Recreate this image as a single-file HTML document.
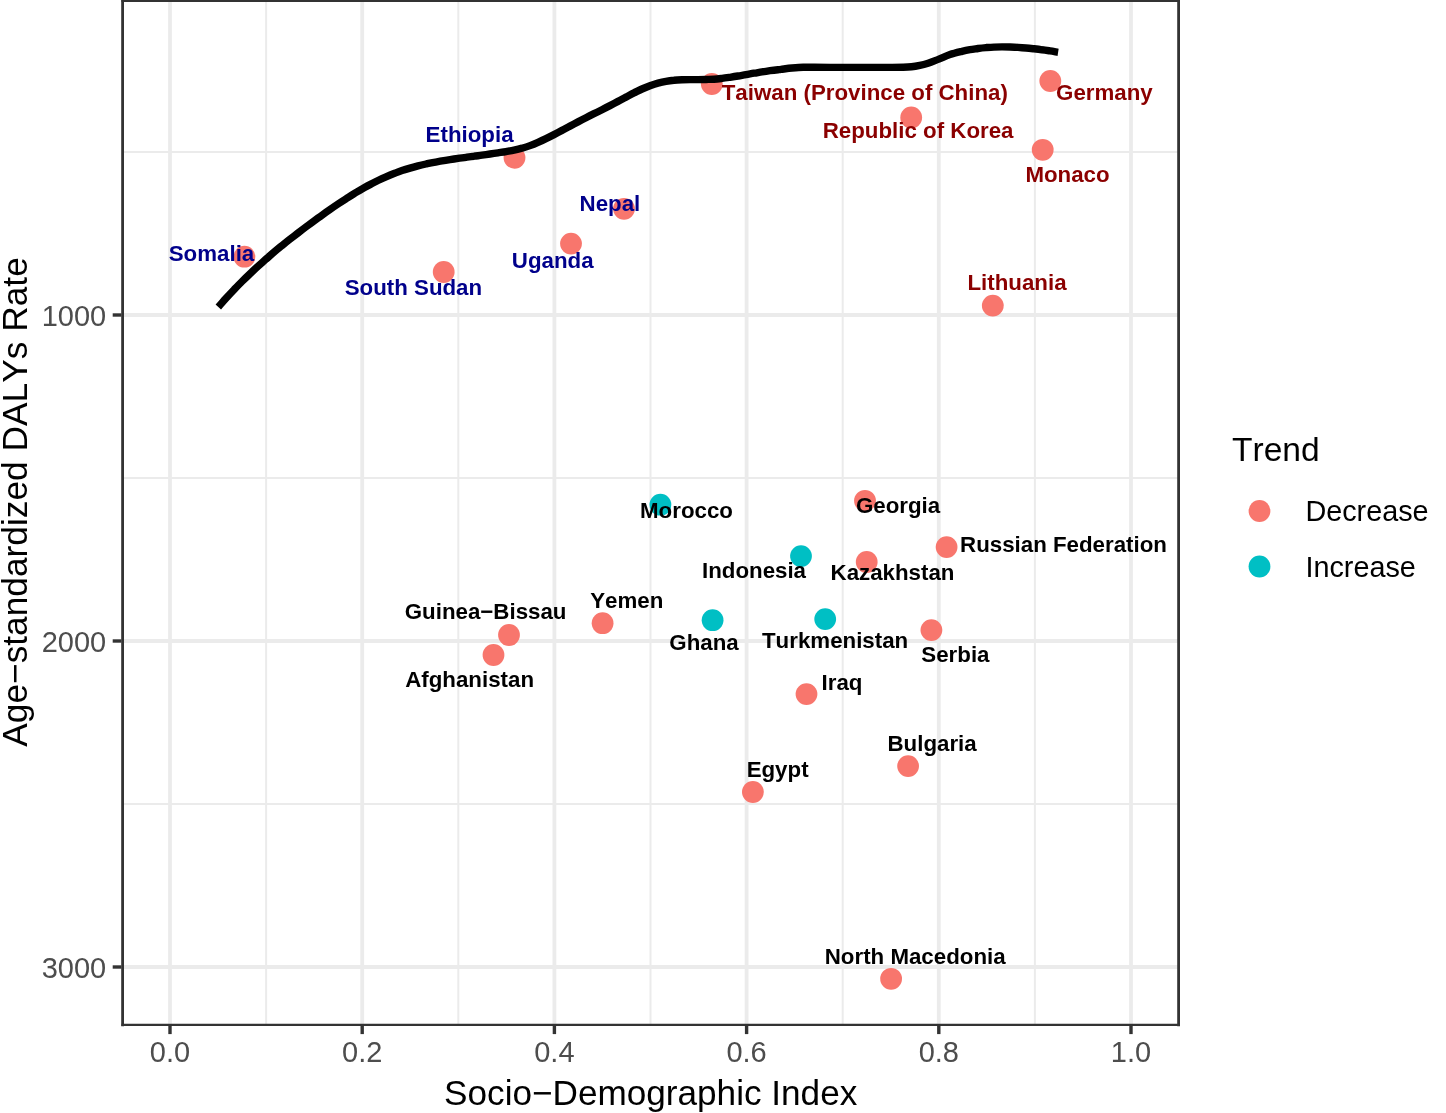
<!DOCTYPE html>
<html lang="en">
<head>
<meta charset="utf-8">
<title>Socio-Demographic Index vs Age-standardized DALYs Rate</title>
<style>
html,body{margin:0;padding:0;background:#fff;}
body{width:1446px;height:1113px;overflow:hidden;}
svg{display:block;will-change:transform;}
text{font-family:"Liberation Sans",Arial,Helvetica,sans-serif;font-kerning:none;}
.lab{font-weight:bold;font-size:22.3px;text-anchor:middle;}
.ax{font-size:29px;fill:#4D4D4D;}
.ttl{font-size:35.3px;fill:#000;}
.lg{font-size:28.8px;fill:#000;}
</style>
</head>
<body>
<svg width="1446" height="1113" viewBox="0 0 1446 1113">
<rect x="0" y="0" width="1446" height="1113" fill="#ffffff"/>
<g stroke="#EBEBEB" fill="none">
<g stroke-width="2.0">
<line x1="266.1" y1="0" x2="266.1" y2="1025.0"/>
<line x1="458.3" y1="0" x2="458.3" y2="1025.0"/>
<line x1="650.5" y1="0" x2="650.5" y2="1025.0"/>
<line x1="842.7" y1="0" x2="842.7" y2="1025.0"/>
<line x1="1034.9" y1="0" x2="1034.9" y2="1025.0"/>
<line x1="122.6" y1="152.0" x2="1178.6" y2="152.0"/>
<line x1="122.6" y1="478.0" x2="1178.6" y2="478.0"/>
<line x1="122.6" y1="804.0" x2="1178.6" y2="804.0"/>
</g>
<g stroke-width="3.8">
<line x1="170.0" y1="0" x2="170.0" y2="1025.0"/>
<line x1="362.2" y1="0" x2="362.2" y2="1025.0"/>
<line x1="554.4" y1="0" x2="554.4" y2="1025.0"/>
<line x1="746.6" y1="0" x2="746.6" y2="1025.0"/>
<line x1="938.8" y1="0" x2="938.8" y2="1025.0"/>
<line x1="1131.0" y1="0" x2="1131.0" y2="1025.0"/>
<line x1="122.6" y1="315.0" x2="1178.6" y2="315.0"/>
<line x1="122.6" y1="641.0" x2="1178.6" y2="641.0"/>
<line x1="122.6" y1="967.0" x2="1178.6" y2="967.0"/>
</g>
</g>
<g>
<circle cx="244.4" cy="256.7" r="10.9" fill="#F8766D"/>
<circle cx="443.7" cy="272.0" r="10.9" fill="#F8766D"/>
<circle cx="514.5" cy="157.8" r="10.9" fill="#F8766D"/>
<circle cx="624.0" cy="208.8" r="10.9" fill="#F8766D"/>
<circle cx="571.0" cy="243.6" r="10.9" fill="#F8766D"/>
<circle cx="711.8" cy="84.0" r="10.9" fill="#F8766D"/>
<circle cx="1050.3" cy="81.0" r="10.9" fill="#F8766D"/>
<circle cx="911.2" cy="117.5" r="10.9" fill="#F8766D"/>
<circle cx="1042.7" cy="149.8" r="10.9" fill="#F8766D"/>
<circle cx="992.8" cy="305.6" r="10.9" fill="#F8766D"/>
<circle cx="660.4" cy="504.7" r="10.9" fill="#00BFC4"/>
<circle cx="865.0" cy="500.8" r="10.9" fill="#F8766D"/>
<circle cx="946.6" cy="547.1" r="10.9" fill="#F8766D"/>
<circle cx="866.7" cy="562.0" r="10.9" fill="#F8766D"/>
<circle cx="801.0" cy="556.1" r="10.9" fill="#00BFC4"/>
<circle cx="712.6" cy="620.2" r="10.9" fill="#00BFC4"/>
<circle cx="825.2" cy="619.1" r="10.9" fill="#00BFC4"/>
<circle cx="931.4" cy="630.1" r="10.9" fill="#F8766D"/>
<circle cx="806.5" cy="694.1" r="10.9" fill="#F8766D"/>
<circle cx="602.6" cy="623.2" r="10.9" fill="#F8766D"/>
<circle cx="509.0" cy="635.0" r="10.9" fill="#F8766D"/>
<circle cx="493.5" cy="655.0" r="10.9" fill="#F8766D"/>
<circle cx="752.9" cy="792.0" r="10.9" fill="#F8766D"/>
<circle cx="908.1" cy="766.1" r="10.9" fill="#F8766D"/>
<circle cx="891.1" cy="978.8" r="10.9" fill="#F8766D"/>
</g>
<path d="M218.3,307.0 C219.6,305.6 223.4,301.2 226.0,298.3 C228.6,295.4 231.3,292.5 234.0,289.7 C236.7,286.9 239.3,284.2 242.0,281.5 C244.7,278.8 247.3,276.2 250.0,273.7 C252.7,271.2 255.3,268.7 258.0,266.3 C260.7,263.9 263.3,261.5 266.0,259.1 C268.7,256.8 271.3,254.4 274.0,252.2 C276.7,249.9 279.3,247.8 282.0,245.6 C284.7,243.4 287.3,241.3 290.0,239.2 C292.7,237.1 295.3,235.1 298.0,233.0 C300.7,230.9 303.3,228.9 306.0,226.9 C308.7,224.9 311.3,222.9 314.0,221.0 C316.7,219.1 319.3,217.1 322.0,215.2 C324.7,213.3 327.3,211.4 330.0,209.5 C332.7,207.6 335.3,205.8 338.0,204.0 C340.7,202.2 343.3,200.5 346.0,198.8 C348.7,197.1 351.3,195.4 354.0,193.8 C356.7,192.2 359.3,190.5 362.0,189.0 C364.7,187.5 367.3,186.0 370.0,184.6 C372.7,183.2 375.3,181.8 378.0,180.5 C380.7,179.2 383.3,178.0 386.0,176.8 C388.7,175.6 391.3,174.5 394.0,173.5 C396.7,172.5 399.3,171.5 402.0,170.6 C404.7,169.7 407.3,168.9 410.0,168.1 C412.7,167.3 415.3,166.6 418.0,165.9 C420.7,165.2 423.3,164.6 426.0,164.0 C428.7,163.4 431.3,162.8 434.0,162.3 C436.7,161.8 439.3,161.4 442.0,160.9 C444.7,160.4 447.3,160.0 450.0,159.6 C452.7,159.2 455.3,158.8 458.0,158.4 C460.7,158.0 463.3,157.7 466.0,157.3 C468.7,156.9 471.3,156.5 474.0,156.2 C476.7,155.8 479.3,155.6 482.0,155.2 C484.7,154.8 487.3,154.4 490.0,154.0 C492.7,153.6 495.3,153.2 498.0,152.8 C500.7,152.4 503.3,152.1 506.0,151.6 C508.7,151.1 511.3,150.7 514.0,150.1 C516.7,149.5 519.3,148.9 522.0,148.2 C524.7,147.4 527.3,146.6 530.0,145.6 C532.7,144.6 535.3,143.5 538.0,142.3 C540.7,141.1 543.3,139.9 546.0,138.6 C548.7,137.3 551.3,136.0 554.0,134.6 C556.7,133.2 559.3,131.8 562.0,130.4 C564.7,129.0 567.3,127.5 570.0,126.1 C572.7,124.7 575.3,123.3 578.0,121.9 C580.7,120.5 583.3,119.1 586.0,117.7 C588.7,116.3 591.3,115.0 594.0,113.7 C596.7,112.4 599.3,111.1 602.0,109.7 C604.7,108.3 607.3,107.0 610.0,105.6 C612.7,104.2 615.3,102.8 618.0,101.4 C620.7,100.0 623.3,98.5 626.0,97.1 C628.7,95.7 631.3,94.2 634.0,92.9 C636.7,91.6 639.3,90.2 642.0,89.0 C644.7,87.8 647.3,86.7 650.0,85.7 C652.7,84.7 655.3,83.8 658.0,83.1 C660.7,82.4 663.3,81.8 666.0,81.3 C668.7,80.8 671.3,80.5 674.0,80.3 C676.7,80.0 679.3,79.9 682.0,79.8 C684.7,79.7 687.3,79.6 690.0,79.6 C692.7,79.6 695.3,79.6 698.0,79.6 C700.7,79.6 703.3,79.6 706.0,79.5 C708.7,79.4 711.3,79.4 714.0,79.2 C716.7,79.0 719.3,78.7 722.0,78.4 C724.7,78.1 727.3,77.7 730.0,77.3 C732.7,76.9 735.3,76.5 738.0,76.0 C740.7,75.5 743.3,75.1 746.0,74.6 C748.7,74.1 751.3,73.7 754.0,73.2 C756.7,72.8 759.3,72.3 762.0,71.9 C764.7,71.5 767.3,71.1 770.0,70.7 C772.7,70.3 776.1,69.9 778.0,69.7 C779.9,69.5 778.8,69.7 781.1,69.4 C783.5,69.1 788.4,68.3 792.1,68.0 C795.8,67.7 799.5,67.4 803.2,67.3 C806.9,67.2 809.8,67.3 814.3,67.3 C818.8,67.3 824.0,67.4 830.0,67.4 C836.0,67.4 843.3,67.4 850.0,67.4 C856.7,67.4 863.0,67.4 870.0,67.4 C877.0,67.4 886.6,67.4 892.1,67.4 C897.6,67.4 900.0,67.4 903.2,67.3 C906.4,67.2 908.7,67.1 911.5,66.8 C914.3,66.5 917.0,66.0 919.8,65.4 C922.6,64.8 924.9,64.2 928.1,63.2 C931.3,62.2 935.2,60.5 938.9,59.1 C942.5,57.7 946.1,55.9 950.0,54.6 C953.9,53.3 958.7,52.2 962.0,51.4 C965.3,50.6 967.3,50.2 970.0,49.7 C972.7,49.2 975.3,48.9 978.0,48.5 C980.7,48.1 983.3,47.8 986.0,47.6 C988.7,47.4 991.3,47.2 994.0,47.1 C996.7,47.0 999.3,46.9 1002.0,46.9 C1004.7,46.9 1007.3,46.9 1010.0,47.0 C1012.7,47.1 1015.3,47.2 1018.0,47.4 C1020.7,47.6 1023.3,47.8 1026.0,48.0 C1028.7,48.2 1031.3,48.5 1034.0,48.8 C1036.7,49.1 1039.3,49.4 1042.0,49.8 C1044.7,50.1 1047.3,50.5 1050.0,50.9 C1052.7,51.3 1056.8,52.1 1058.1,52.3" fill="none" stroke="#000" stroke-width="7.4" stroke-linecap="butt" stroke-linejoin="round"/>
<g class="lab">
<text x="211.5" y="260.8" fill="#00008B">Somalia</text>
<text x="413.4" y="295.1" fill="#00008B">South Sudan</text>
<text x="469.6" y="141.7" fill="#00008B">Ethiopia</text>
<text x="609.9" y="210.7" fill="#00008B">Nepal</text>
<text x="552.7" y="267.8" fill="#00008B">Uganda</text>
<text x="864.8" y="99.6" fill="#8B0000">Taiwan (Province of China)</text>
<text x="1104.4" y="99.8" fill="#8B0000">Germany</text>
<text x="918.1" y="138.4" fill="#8B0000">Republic of Korea</text>
<text x="1067.5" y="182.1" fill="#8B0000">Monaco</text>
<text x="1017.0" y="289.7" fill="#8B0000">Lithuania</text>
<text x="686.5" y="517.8" fill="#000000">Morocco</text>
<text x="898.1" y="512.9" fill="#000000">Georgia</text>
<text x="1063.5" y="551.6" fill="#000000">Russian Federation</text>
<text x="892.5" y="580.0" fill="#000000">Kazakhstan</text>
<text x="754.0" y="577.6" fill="#000000">Indonesia</text>
<text x="835.1" y="648.4" fill="#000000">Turkmenistan</text>
<text x="955.4" y="661.6" fill="#000000">Serbia</text>
<text x="842.0" y="690.0" fill="#000000">Iraq</text>
<text x="626.8" y="607.7" fill="#000000">Yemen</text>
<text x="485.6" y="619.3" fill="#000000">Guinea−Bissau</text>
<text x="704.0" y="649.7" fill="#000000">Ghana</text>
<text x="469.6" y="686.5" fill="#000000">Afghanistan</text>
<text x="777.6" y="776.7" fill="#000000">Egypt</text>
<text x="932.1" y="751.2" fill="#000000">Bulgaria</text>
<text x="915.2" y="963.6" fill="#000000">North Macedonia</text>
</g>
<g stroke="#333333" fill="none" stroke-linecap="square">
<line x1="122.60" y1="0.85" x2="122.60" y2="1024.95" stroke-width="2.8"/>
<line x1="1178.60" y1="0.85" x2="1178.60" y2="1024.95" stroke-width="2.8"/>
<line x1="122.60" y1="0.85" x2="1178.60" y2="0.85" stroke-width="2.3"/>
<line x1="122.60" y1="1024.95" x2="1178.60" y2="1024.95" stroke-width="2.3"/>
</g>
<g stroke="#333333" stroke-width="3.4">
<line x1="170.0" y1="1025.9" x2="170.0" y2="1034.1"/>
<line x1="362.2" y1="1025.9" x2="362.2" y2="1034.1"/>
<line x1="554.4" y1="1025.9" x2="554.4" y2="1034.1"/>
<line x1="746.6" y1="1025.9" x2="746.6" y2="1034.1"/>
<line x1="938.8" y1="1025.9" x2="938.8" y2="1034.1"/>
<line x1="1131.0" y1="1025.9" x2="1131.0" y2="1034.1"/>
<line x1="112.7" y1="315.0" x2="121.4" y2="315.0"/>
<line x1="112.7" y1="641.0" x2="121.4" y2="641.0"/>
<line x1="112.7" y1="967.0" x2="121.4" y2="967.0"/>
</g>
<g class="ax">
<text transform="translate(170.0,1062.1) scale(1,1.04)" text-anchor="middle">0.0</text>
<text transform="translate(362.2,1062.1) scale(1,1.04)" text-anchor="middle">0.2</text>
<text transform="translate(554.4,1062.1) scale(1,1.04)" text-anchor="middle">0.4</text>
<text transform="translate(746.6,1062.1) scale(1,1.04)" text-anchor="middle">0.6</text>
<text transform="translate(938.8,1062.1) scale(1,1.04)" text-anchor="middle">0.8</text>
<text transform="translate(1131.0,1062.1) scale(1,1.04)" text-anchor="middle">1.0</text>
<text transform="translate(106.2,326.1) scale(1,1.04)" text-anchor="end">1000</text>
<text transform="translate(106.2,652.1) scale(1,1.04)" text-anchor="end">2000</text>
<text transform="translate(106.2,978.1) scale(1,1.04)" text-anchor="end">3000</text>
</g>
<text class="ttl" x="650.7" y="1105.0" text-anchor="middle" style="font-size:35.15px">Socio−Demographic Index</text>
<text class="ttl" transform="translate(26.6,502.0) rotate(-90)" text-anchor="middle">Age−standardized DALYs Rate</text>
<text class="ttl" x="1232.0" y="461.0" style="font-size:33.6px">Trend</text>
<circle cx="1259.5" cy="511.0" r="10.9" fill="#F8766D"/>
<circle cx="1259.5" cy="566.5" r="10.9" fill="#00BFC4"/>
<text class="lg" x="1305.4" y="520.8">Decrease</text>
<text class="lg" x="1305.4" y="576.8">Increase</text>
</svg>
</body>
</html>
